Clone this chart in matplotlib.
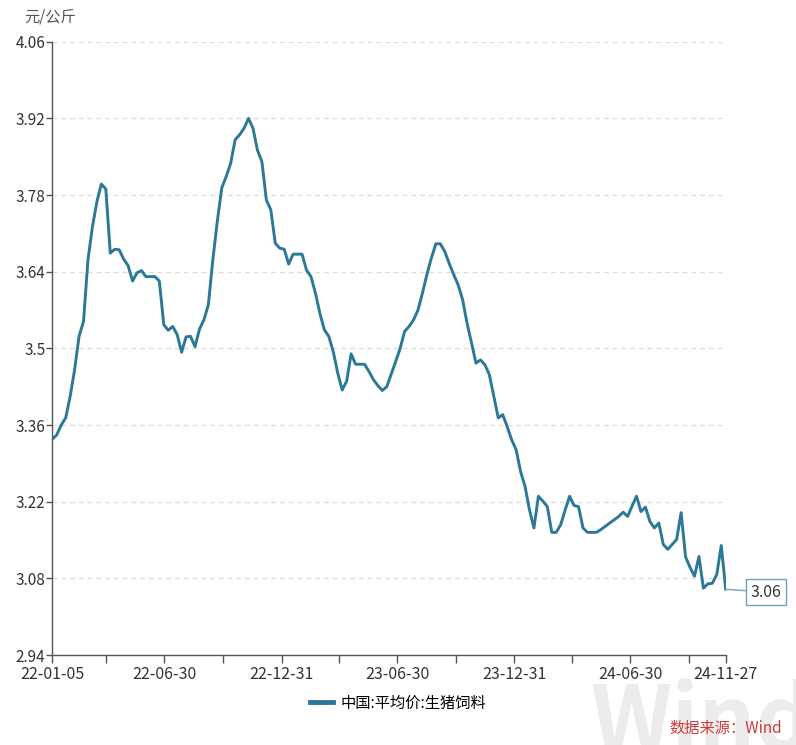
# coding=utf-8
"""Weekly average hog feed price in China, 2022-2024."""
import matplotlib
matplotlib.use('Agg')
import matplotlib.pyplot as plt
import pandas as pd

plt.rcParams['font.family'] = ['Noto Sans CJK SC', 'DejaVu Sans']

START = '2022-01-05'
SERIES_NAME = '中国:平均价:生猪饲料'
UNIT = '元/公斤'
SOURCE = '数据来源：Wind'

# one value per week
prices = [
    3.334, 3.342, 3.360, 3.373, 3.412, 3.461, 3.522, 3.549, 3.662, 3.722,
    3.768, 3.800, 3.791, 3.674, 3.681, 3.680, 3.663, 3.651, 3.623, 3.638,
    3.642, 3.631, 3.631, 3.631, 3.623, 3.543, 3.533, 3.540, 3.525, 3.493,
    3.521, 3.522, 3.503, 3.535, 3.552, 3.580, 3.662, 3.732, 3.793, 3.814,
    3.838, 3.881, 3.890, 3.902, 3.920, 3.902, 3.862, 3.841, 3.771, 3.753,
    3.692, 3.683, 3.681, 3.654, 3.672, 3.672, 3.672, 3.643, 3.631, 3.601,
    3.564, 3.534, 3.522, 3.494, 3.455, 3.424, 3.440, 3.490, 3.471, 3.471,
    3.471, 3.458, 3.443, 3.432, 3.423, 3.430, 3.453, 3.476, 3.500, 3.531,
    3.540, 3.552, 3.570, 3.601, 3.635, 3.665, 3.691, 3.691, 3.677, 3.655,
    3.635, 3.616, 3.589, 3.546, 3.510, 3.473, 3.479, 3.470, 3.452, 3.412,
    3.373, 3.379, 3.357, 3.333, 3.315, 3.275, 3.248, 3.205, 3.172, 3.230,
    3.221, 3.211, 3.164, 3.164, 3.178, 3.205, 3.230, 3.213, 3.211, 3.172,
    3.164, 3.164, 3.164, 3.169, 3.175, 3.181, 3.187, 3.193, 3.201, 3.193,
    3.212, 3.230, 3.202, 3.210, 3.184, 3.172, 3.181, 3.142, 3.133, 3.142,
    3.151, 3.200, 3.119, 3.100, 3.084, 3.120, 3.062, 3.070, 3.071, 3.087,
    3.140, 3.060,
]
y_ticks = [2.94, 3.08, 3.22, 3.36, 3.5, 3.64, 3.78, 3.92, 4.06]
x_labels = ['2022-01-05', '2022-06-30', '2022-12-31', '2023-06-30',
            '2023-12-31', '2024-06-30', '2024-11-27']
x_minor = ['2022-03-31', '2022-09-30', '2023-03-31', '2023-09-30',
           '2024-03-31', '2024-09-30']

LINE_COLOR = '#2b7897'
TEXT_COLOR = '#333333'

dates = pd.date_range(START, periods=len(prices), freq='7D')

fig = plt.figure(figsize=(7.96, 7.45), dpi=100)
ax = fig.add_axes([0.0657, 0.1208, 0.846, 0.8232])

line, = ax.plot(dates, prices, color=LINE_COLOR, lw=2.1,
                solid_joinstyle='round', label=SERIES_NAME)

ax.set_xlim(dates[0], dates[-1])
ax.set_ylim(y_ticks[0], y_ticks[-1])
ax.set_yticks(y_ticks)
ax.set_yticklabels([f'{v:g}' for v in y_ticks])
ax.yaxis.grid(True, ls=(0, (4, 3)), color='#dddddd', lw=0.9)
ax.set_axisbelow(True)

major = pd.to_datetime(x_labels)
ax.set_xticks(major)
ax.set_xticklabels([d.strftime('%y-%m-%d') for d in major])
ax.set_xticks(pd.to_datetime(x_minor), minor=True)

for side in ('top', 'right'):
    ax.spines[side].set_visible(False)
for side in ('left', 'bottom'):
    ax.spines[side].set_color('#555555')
    ax.spines[side].set_linewidth(1.0)
ax.tick_params(axis='y', length=4, width=1, color='#555555',
               labelsize=11, labelcolor=TEXT_COLOR, pad=1)
ax.tick_params(axis='x', which='both', length=6, width=1, color='#555555',
               labelsize=11.5, labelcolor=TEXT_COLOR, pad=2)

fig.text(0.031, 0.977, UNIT, fontsize=11, color='#555555', va='center')

# callout for the last value
ax.annotate(f'{prices[-1]:.2f}', xy=(dates[-1], prices[-1]),
            xytext=(18, -2), textcoords='offset points', va='center',
            fontsize=11.5, color=TEXT_COLOR,
            bbox=dict(boxstyle='square,pad=0.3', fc='white',
                      ec='#6fa3c4', lw=1),
            arrowprops=dict(arrowstyle='-', color='#6fa3c4', lw=1,
                            shrinkA=0, shrinkB=0),
            annotation_clip=False)

fig.legend(handles=[line], loc='center', bbox_to_anchor=(0.5, 0.056),
           frameon=False, fontsize=11, handlelength=1.5,
           handletextpad=0.5)
for lg_line in fig.legends[0].get_lines():
    lg_line.set_linewidth(3.5)

# watermark and source
fig.text(0.742, 0.088, 'Wind', fontsize=64, fontweight='bold',
         color='#ececec', va='top', ha='left', zorder=0)
fig.text(0.983, 0.022, SOURCE, fontsize=11, color='#cc3b3b',
         ha='right', va='center')

fig.savefig('out.png', dpi=100)
